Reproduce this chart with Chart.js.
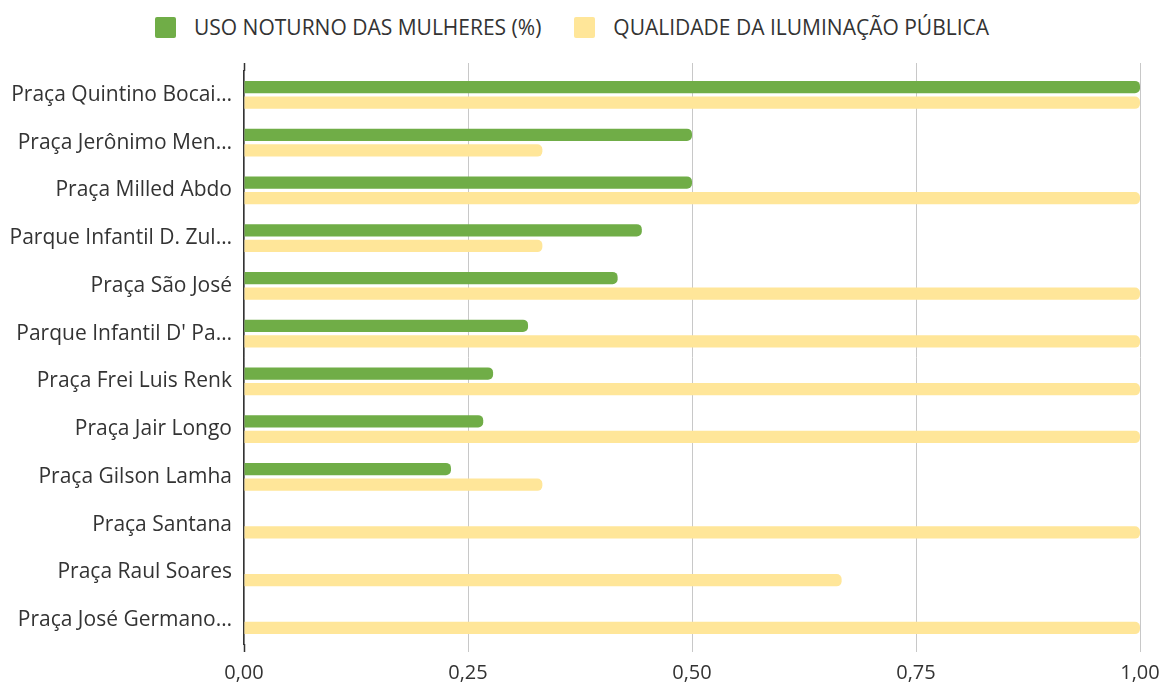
<!DOCTYPE html>
<html>
<head>
<meta charset="utf-8">
<script src="https://cdn.jsdelivr.net/npm/chart.js@4"></script>
<style>
	html, body { margin: 0; padding: 0; background: #fff; }
	#wrap { position: relative; width: 1165px; height: 686px; }
	#legend-container { position: absolute; left: 155px; top: 13px; }
	canvas { position: absolute; left: 0; top: 0; }
</style>
</head>
<body>
<div id="wrap">
	<div id="legend-container"></div>
	<canvas id="barChart" width="1165" height="686"></canvas>
</div>
<script>
const categories = [
	"Praça Quintino Bocai…",
	"Praça Jerônimo Men…",
	"Praça Milled Abdo",
	"Parque Infantil D. Zul…",
	"Praça São José",
	"Parque Infantil D' Pa…",
	"Praça Frei Luis Renk",
	"Praça Jair Longo",
	"Praça Gilson Lamha",
	"Praça Santana",
	"Praça Raul Soares",
	"Praça José Germano…",
];
const usoNoturno = [1, 0.5, 0.5, 0.444, 0.417, 0.317, 0.278, 0.267, 0.231, 0, 0, 0];
const iluminacao = [1, 0.333, 1, 0.333, 1, 1, 1, 1, 0.333, 1, 0.667, 1];
const xTicks = [0, 0.25, 0.5, 0.75, 1];

const FONT = "'Open Sans', sans-serif";

// legenda em html, igual ao desenho original
const htmlLegendPlugin = {
	id: "htmlLegend",
	afterUpdate(chart, args, options) {
		const box = document.getElementById(options.containerID);
		let ul = box.querySelector("ul");
		if (!ul) {
			ul = document.createElement("ul");
			ul.style.display = "flex";
			ul.style.margin = 0;
			ul.style.padding = 0;
			ul.style.listStyle = "none";
			box.appendChild(ul);
		}
		while (ul.firstChild) ul.firstChild.remove();

		chart.data.datasets.forEach((ds, i) => {
			const li = document.createElement("li");
			li.style.display = "flex";
			li.style.alignItems = "center";
			li.style.marginRight = i === 0 ? "33px" : "0";

			const sq = document.createElement("span");
			sq.style.display = "inline-block";
			sq.style.width = "21px";
			sq.style.height = "21px";
			sq.style.borderRadius = "2px";
			sq.style.background = ds.backgroundColor;
			sq.style.marginRight = "18px";

			const p = document.createElement("p");
			p.style.margin = 0;
			p.style.font = "21px " + FONT;
			p.style.color = "#333";
			p.textContent = ds.label;

			li.appendChild(sq);
			li.appendChild(p);
			ul.appendChild(li);
		});
	},
};

// as linhas verticais passam um pouco da área do gráfico
const extendLines = {
	id: "extendLines",
	afterDraw(chart) {
		const { ctx, chartArea, scales } = chart;
		ctx.save();
		xTicks.forEach((v) => {
			const x = Math.round(scales.x.getPixelForValue(v)) + 0.5;
			ctx.strokeStyle = v === 0 ? "#333" : "#c8c8c8";
			ctx.lineWidth = v === 0 ? 1.5 : 1;
			ctx.beginPath();
			ctx.moveTo(x, chartArea.top - 8);
			ctx.lineTo(x, chartArea.top);
			ctx.moveTo(x, chartArea.bottom);
			ctx.lineTo(x, chartArea.bottom + 8);
			ctx.stroke();
		});
		ctx.restore();
	},
};

new Chart(document.getElementById("barChart"), {
	type: "bar",
	data: {
		labels: categories,
		datasets: [
			{
				label: "USO NOTURNO DAS MULHERES (%)",
				data: usoNoturno,
				backgroundColor: "#70ad47",
				borderRadius: 5,
				borderSkipped: "start",
				categoryPercentage: 0.65,
				barPercentage: 0.8,
			},
			{
				label: "QUALIDADE DA ILUMINAÇÃO PÚBLICA",
				data: iluminacao,
				backgroundColor: "#ffe699",
				borderRadius: 5,
				borderSkipped: "start",
				categoryPercentage: 0.65,
				barPercentage: 0.8,
			},
		],
	},
	options: {
		indexAxis: "y",
		responsive: false,
		animation: false,
		layout: { padding: { top: 71, right: 25, left: 0, bottom: 0 } },
		plugins: {
			legend: { display: false },
			tooltip: { enabled: false },
			htmlLegend: { containerID: "legend-container" },
		},
		scales: {
			x: {
				min: 0,
				max: 1,
				afterBuildTicks: (s) => { s.ticks = xTicks.map((v) => ({ value: v })); },
				afterFit: (s) => {
					s.height = 42;
					s.paddingLeft = 0;
					s.paddingRight = 0;
				},
				grid: { color: "#c8c8c8", drawTicks: false },
				border: { display: false },
				ticks: {
					padding: 17,
					color: "#333",
					font: { family: FONT, size: 20 },
					callback: (v) => Number(v).toFixed(2).replace(".", ","),
				},
			},
			y: {
				afterFit: (s) => { s.width = 244; },
				grid: { display: false, drawTicks: false },
				border: { display: true, color: "#333", width: 1.5 },
				ticks: {
					padding: 12,
					color: "#333",
					font: { family: FONT, size: 21 },
				},
			},
		},
	},
	plugins: [htmlLegendPlugin, extendLines],
});
</script>
</body>
</html>
